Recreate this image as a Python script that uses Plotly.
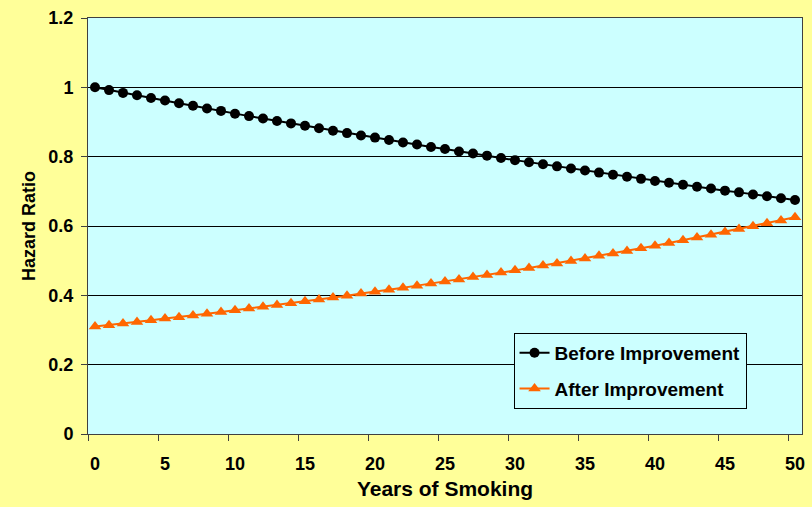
import plotly.graph_objects as go

years = list(range(0, 51))
before = [1.000, 0.992, 0.984, 0.977, 0.969, 0.962, 0.954, 0.947, 0.939, 0.932,
          0.924, 0.917, 0.910, 0.903, 0.896, 0.889, 0.882, 0.875, 0.868, 0.861,
          0.855, 0.848, 0.841, 0.835, 0.828, 0.822, 0.815, 0.809, 0.803, 0.796,
          0.790, 0.784, 0.778, 0.772, 0.766, 0.760, 0.754, 0.748, 0.742, 0.736,
          0.730, 0.725, 0.719, 0.713, 0.708, 0.702, 0.697, 0.691, 0.686, 0.680,
          0.675]
after = [0.310, 0.314, 0.319, 0.323, 0.328, 0.333, 0.337, 0.342, 0.347, 0.352,
         0.357, 0.362, 0.367, 0.372, 0.377, 0.383, 0.388, 0.394, 0.399, 0.405,
         0.410, 0.416, 0.422, 0.428, 0.434, 0.440, 0.446, 0.453, 0.459, 0.466,
         0.472, 0.479, 0.486, 0.492, 0.499, 0.506, 0.514, 0.521, 0.528, 0.536,
         0.543, 0.551, 0.559, 0.567, 0.575, 0.583, 0.591, 0.599, 0.608, 0.616,
         0.625]
x_ticks = [0, 5, 10, 15, 20, 25, 30, 35, 40, 45, 50]
y_ticks = [0, 0.2, 0.4, 0.6, 0.8, 1, 1.2]
y_labels = ["0", "0.2", "0.4", "0.6", "0.8", "1", "1.2"]

font_family = "Liberation Sans, Arial, sans-serif"

fig = go.Figure()
fig.add_trace(go.Scatter(
    x=years, y=before, mode="lines+markers", name="<b>Before Improvement</b>",
    line=dict(color="black", width=2),
    marker=dict(symbol="circle", size=10, color="black"),
    legendgroup="a",
))
fig.add_trace(go.Scatter(
    x=years, y=after, mode="lines+markers", name="<b>After Improvement</b>",
    line=dict(color="#FF6600", width=2),
    marker=dict(symbol="triangle-up", size=11, color="#FF6600"),
    legendgroup="b",
))

fig.update_layout(
    width=812, height=507,
    margin=dict(l=88, r=7, t=18, b=73),
    paper_bgcolor="#FFFF99",
    plot_bgcolor="#CCFFFF",
    font=dict(family=font_family, size=18, color="black"),
    showlegend=True,
    legend=dict(
        x=0.596, y=0.243, xanchor="left", yanchor="top",
        bgcolor="#CCFFFF", bordercolor="black", borderwidth=1,
        font=dict(family=font_family, size=19, color="black"),
        tracegroupgap=8,
    ),
    xaxis=dict(
        range=[-0.5, 50.5],
        tickvals=x_ticks,
        ticktext=["<b>%d</b>" % v for v in x_ticks],
        ticks="outside", ticklen=13, tickcolor="rgba(0,0,0,0)",
        tickfont=dict(size=18),
        showgrid=False, zeroline=False,
        showline=True, linecolor="#404040", linewidth=1, mirror=True,
        minor=dict(tickvals=[v - 0.5 for v in x_ticks], ticks="outside",
                   ticklen=6, tickcolor="#404040", showgrid=False),
        title=dict(text="<b>Years of Smoking</b>", font=dict(size=21), standoff=8),
    ),
    yaxis=dict(
        range=[0, 1.2],
        tickvals=y_ticks,
        ticktext=["<b>%s</b>" % t for t in y_labels],
        ticks="outside", ticklen=6, tickcolor="#404040",
        ticklabelstandoff=4,
        tickfont=dict(size=18),
        showgrid=True, gridcolor="black", gridwidth=1,
        zeroline=False,
        showline=True, linecolor="#404040", linewidth=1, mirror=True,
        title=dict(text="<b>Hazard Ratio</b>", font=dict(size=18), standoff=8),
    ),
)

fig.write_html("out.html", config={"displayModeBar": False},
               post_script="document.body.style.margin='0';")
